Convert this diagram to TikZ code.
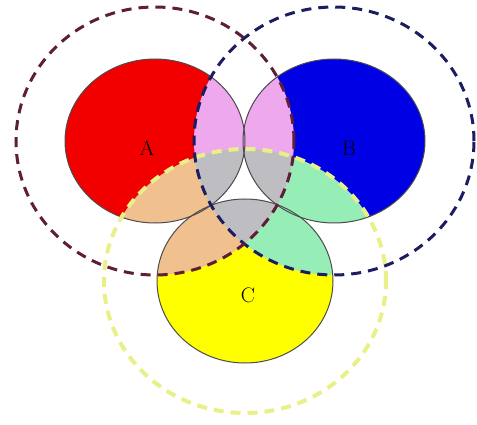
\documentclass[tikz,border=0pt]{standalone}
\usepackage{tikz}

\definecolor{setred}{HTML}{F20000}
\definecolor{setblue}{HTML}{0000E4}
\definecolor{setyellow}{HTML}{FFFF00}
\definecolor{mixab}{HTML}{EEA8EE}
\definecolor{mixac}{HTML}{F0C08E}
\definecolor{mixbc}{HTML}{96EEB6}
\definecolor{mixabc}{HTML}{BEBEC2}
\definecolor{bndred}{HTML}{5E1E36}
\definecolor{bndblue}{HTML}{1C1C60}
\definecolor{bndyellow}{HTML}{EAF088}

\newcommand{\solA}{(ca) ellipse [x radius=90pt, y radius=82pt]}
\newcommand{\solB}{(cb) ellipse [x radius=91pt, y radius=82pt]}
\newcommand{\solC}{(cc) ellipse [x radius=88pt, y radius=82pt]}
\newcommand{\bndA}{(ca) ellipse [x radius=139pt, y radius=134pt]}
\newcommand{\bndB}{(cb) ellipse [x radius=140pt, y radius=134pt]}
\newcommand{\bndC}{(cc) ellipse [x radius=141pt, y radius=132pt]}

\begin{document}
\begin{tikzpicture}[
  x=1pt, y=-1pt,
  sol/.style={draw=black!70, line width=1pt},
  bnd/.style={line width=3pt, dash pattern=on 10pt off 7pt},
  lbl/.style={font=\fontsize{21}{24}\selectfont, inner sep=0pt}
]
  \useasboundingbox (0,0) rectangle (477,425);
  \coordinate (ca) at (155,141);
  \coordinate (cb) at (334,141);
  \coordinate (cc) at (245,281);

  \fill[setred] \solA;
  \fill[setblue] \solB;
  \fill[setyellow] \solC;
  \begin{scope} \clip \bndA; \clip \bndB; \fill[mixab] \solA \solB \solC; \end{scope}
  \begin{scope} \clip \bndA; \clip \bndC; \fill[mixac] \solA \solB \solC; \end{scope}
  \begin{scope} \clip \bndB; \clip \bndC; \fill[mixbc] \solA \solB \solC; \end{scope}
  \begin{scope} \clip \bndA; \clip \bndB; \clip \bndC; \fill[mixabc] \solA \solB \solC; \end{scope}

  \draw[sol] \solA;
  \draw[sol] \solB;
  \draw[sol] \solC;

  \draw[bnd, bndyellow, line width=4pt] \bndC;
  \draw[bnd, bndblue] \bndB;
  \draw[bnd, bndred] \bndA;

  \node[lbl] (la) at (147,148) {A};
  \node[lbl] (lb) at (349,148) {B};
  \node[lbl] (lc) at (248,295) {C};
\end{tikzpicture}
\end{document}
